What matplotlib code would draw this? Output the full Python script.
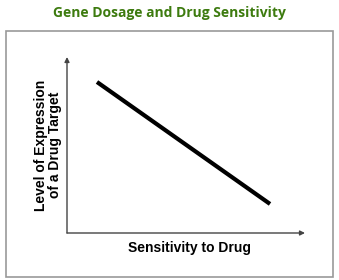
import matplotlib
matplotlib.use("Agg")
import matplotlib.pyplot as plt
from matplotlib.patches import Rectangle

title = "Gene Dosage and Drug Sensitivity"
xlabel = "Sensitivity to Drug"
ylabel = "Level of Expression\nof a Drug Target"
line_x = [0.126, 0.853]
line_y = [0.858, 0.165]

W, H = 339, 280
fig = plt.figure(figsize=(W / 100, H / 100), dpi=100)
fig.patch.set_facecolor("white")

# outer gray border
fig.add_artist(Rectangle((6 / W, 3 / H), 327 / W, 246 / H, transform=fig.transFigure,
                         fill=False, edgecolor="#999999", linewidth=1.2))

fig.text(169 / W, 1 - 13 / H, title, ha="center", va="center", color="#3d7b0f",
         fontsize=10, fontweight="bold", family="Open Sans")

ax = fig.add_axes([67 / W, 1 - 233 / H, 238 / W, 176 / H])
ax.set_xlim(0, 1)
ax.set_ylim(0, 1)
ax.axis("off")

ax.plot(line_x, line_y, color="black", linewidth=3, solid_capstyle="butt")

ax.annotate("", xy=(1, 0), xytext=(0, 0), xycoords="axes fraction",
            arrowprops=dict(arrowstyle="-|>", color="#444444", lw=1, mutation_scale=7,
                            shrinkA=0, shrinkB=0))
ax.annotate("", xy=(0, 1), xytext=(0, 0), xycoords="axes fraction",
            arrowprops=dict(arrowstyle="-|>", color="#444444", lw=1, mutation_scale=7,
                            shrinkA=0, shrinkB=0))

fig.text(190 / W, 1 - 248 / H, xlabel, ha="center", va="center", fontsize=10,
         fontweight="bold", family="Liberation Sans")
fig.text(48 / W, 1 - 145 / H, ylabel, ha="center", va="center", fontsize=10,
         fontweight="bold", family="Liberation Sans", rotation=90, linespacing=0.95)

fig.savefig("out.png", dpi=100)
